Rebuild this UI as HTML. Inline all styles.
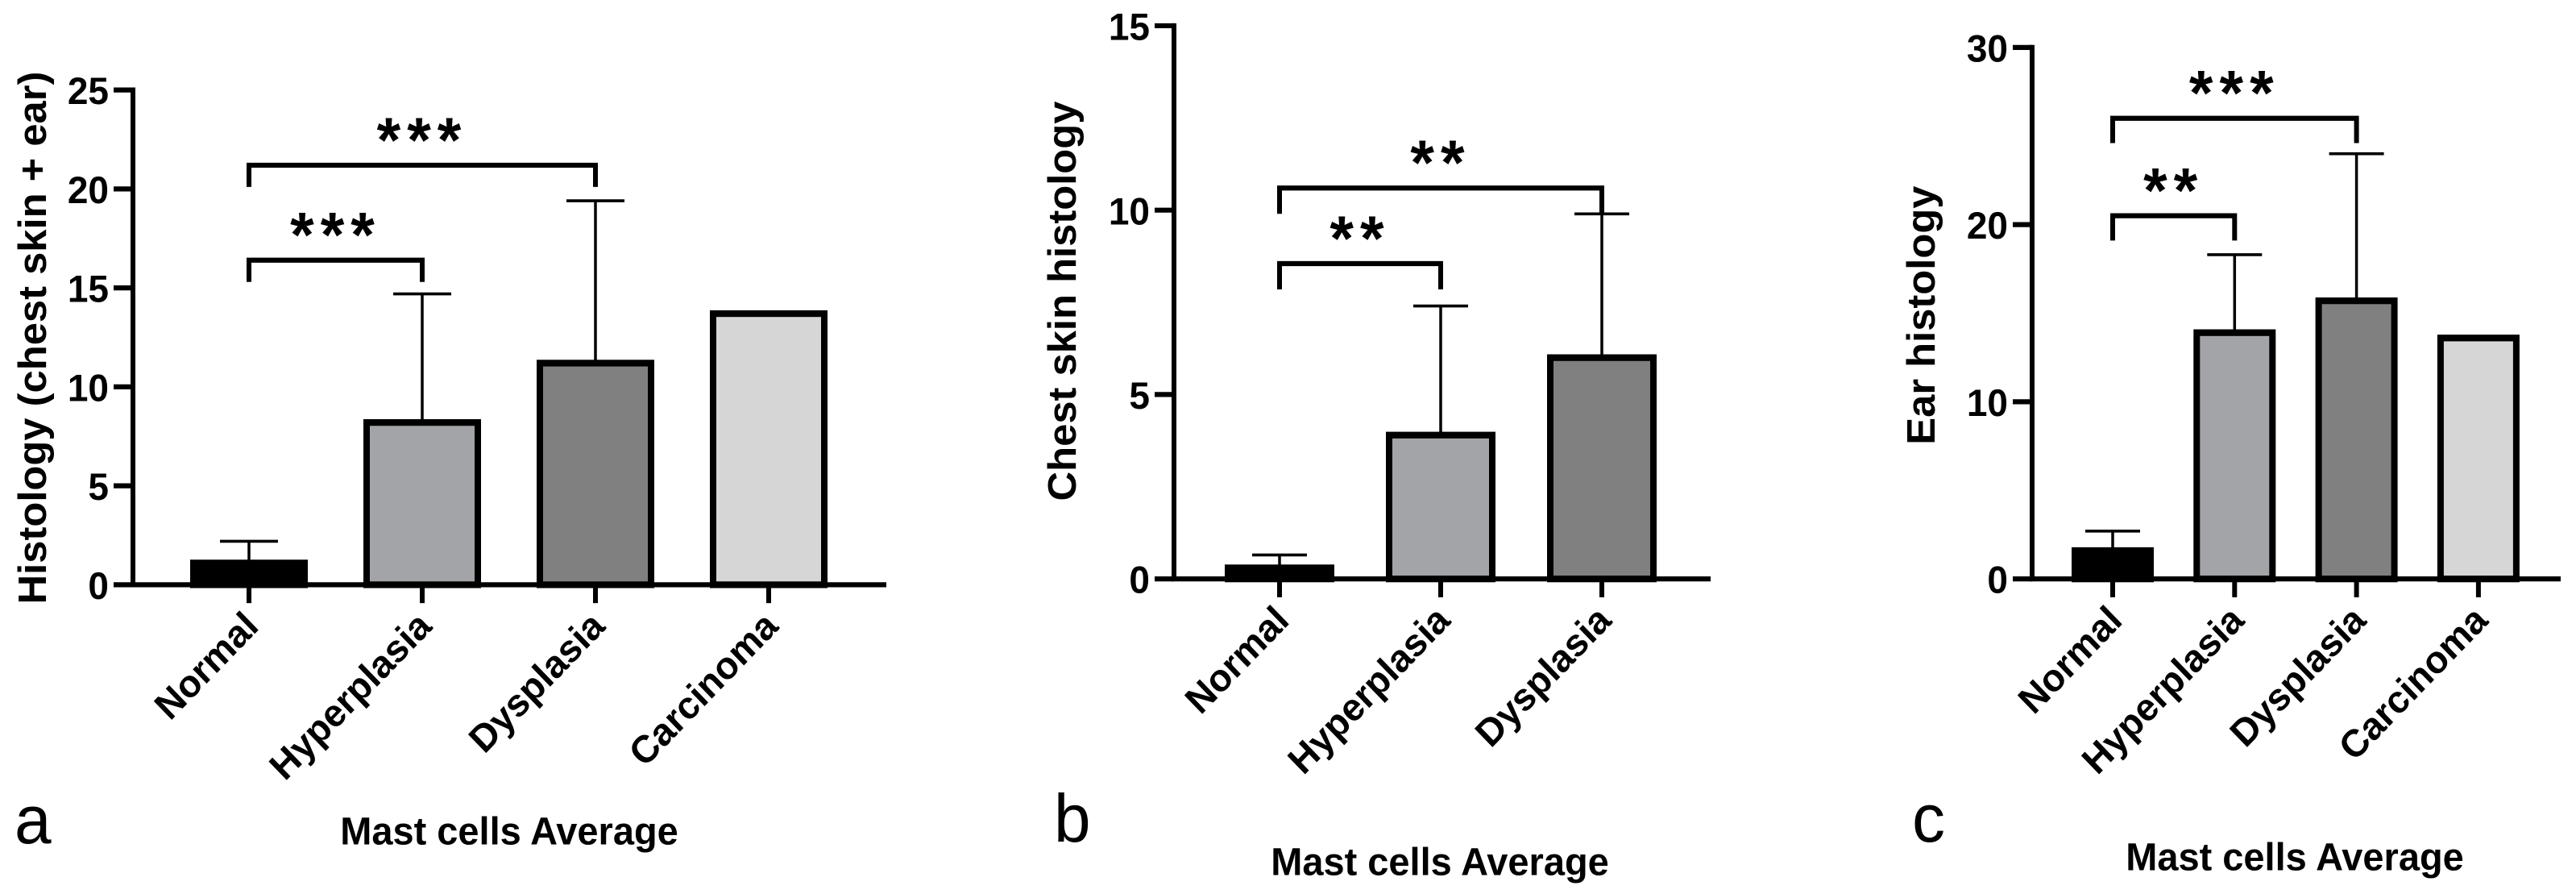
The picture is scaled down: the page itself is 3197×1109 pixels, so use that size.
<!DOCTYPE html>
<html><head><meta charset="utf-8"><style>
html,body{margin:0;padding:0;background:#fff;}
svg{display:block;font-family:"Liberation Sans",Arial,sans-serif;}
</style></head><body>
<svg width="3197" height="1109" viewBox="0 0 3197 1109" xmlns="http://www.w3.org/2000/svg"><g id="fig" transform="translate(0,4) scale(1,1.035)"></g></svg>
<script>
// Panel a data
const catsA = ["Normal","Hyperplasia","Dysplasia","Carcinoma"];
const meansA = [1.1, 8.2, 11.2, 13.7];
const errA = [2.2, 14.7, 19.4, null];
const ticksA = [0,5,10,15,20,25];
// Panel b data
const catsB = ["Normal","Hyperplasia","Dysplasia"];
const meansB = [0.3, 3.9, 6.0];
const errB = [0.65, 7.4, 9.9];
const ticksB = [0,5,10,15];
// Panel c data
const catsC = ["Normal","Hyperplasia","Dysplasia","Carcinoma"];
const meansC = [1.6, 13.9, 15.7, 13.6];
const errC = [2.7, 18.3, 24.0, null];
const ticksC = [0,10,20,30];
// significance brackets: [fromIndex, toIndex, bracket value, leg-bottom value, label]
const sigA = [[0,1,16.4,15.3,"***"],[0,2,21.2,20.1,"***"]];
const sigB = [[0,1,8.55,7.85,"**"],[0,2,10.6,9.9,"**"]];
const sigC = [[0,1,20.5,19.1,"**"],[0,2,26.0,24.6,"***"]];
const fills = ["#000000","#a3a4a8","#808080","#d6d6d6"];

const NS = "http://www.w3.org/2000/svg";
const svg = document.getElementById("fig");
function mk(tag, attrs, parent, text){
  const e = document.createElementNS(NS, tag);
  for (const k in attrs) e.setAttribute(k, attrs[k]);
  if (text !== undefined) e.textContent = text;
  (parent || svg).appendChild(e);
  return e;
}

function panel(p){
  const g = mk("g", {});
  
  
  const ymax = p.ticks[p.ticks.length-1];
  const y = v => p.y0 - (p.y0 - p.yTop) * v / ymax;
  const x = i => p.cx0 + i * p.step;
  p.means.forEach((m, i) => {
    const e = p.err[i];
    if (e !== null) {
      const l = mk("path", {d: `M${x(i)},${y(m)} V${y(e)} M${x(i)-p.capw},${y(e)} H${x(i)+p.capw}`, stroke: "#000", "stroke-width": 3.5, fill: "none"}, g);
      
      
    }
    const r = mk("rect", {x: x(i) - p.bw/2, y: y(m), width: p.bw, height: p.y0 - y(m), fill: fills[i], stroke: "#000", "stroke-width": 8}, g);
    
    
  });
  const ax = mk("path", {d: `M${p.ax},${p.yTop-3} V${p.y0} H${p.xEnd}`, stroke: "#000", "stroke-width": 6, fill: "none"}, g);
  
  
  p.ticks.forEach(t => {
    mk("line", {x1: p.ax - 24, x2: p.ax, y1: y(t), y2: y(t), stroke: "#000", "stroke-width": 6}, g);
    const tl = mk("text", {x: p.ax - 30, y: y(t) + 17, "text-anchor": "end", "font-size": 46, "font-weight": "bold"}, g, String(t));
    
    
  });
  p.cats.forEach((c, i) => {
    mk("line", {x1: x(i), x2: x(i), y1: p.y0, y2: p.y0 + 22, stroke: "#000", "stroke-width": 6}, g);
    const tx = x(i) + 14, ty = p.y0 + 52;
    const lab = mk("text", {x: tx, y: ty, "text-anchor": "end", "font-size": 46, "font-weight": "bold", transform: `rotate(-45 ${tx} ${ty})`}, g, c);
    
    
  });
  p.sig.forEach(s => {
    const x1 = x(s[0]), x2 = x(s[1]), yb = y(s[2]), yl = y(s[3]);
    const br = mk("path", {d: `M${x1},${yl} V${yb} H${x2} V${yl}`, stroke: "#000", "stroke-width": 6, fill: "none"}, g);
    
    
    const st = mk("text", {x: (x1+x2)/2, y: yb - 4, "text-anchor": "middle", "font-size": 76, "font-weight": "bold", "letter-spacing": 8}, g, s[4]);
    
    
  });
  const yt = mk("text", {x: p.ytX, y: p.ytY, "text-anchor": "middle", "font-size": p.ytSize, "font-weight": "bold", transform: `rotate(-90 ${p.ytX} ${p.ytY})`}, g, p.ytitle);
  
  
  const xt = mk("text", {x: p.xtX, y: p.xtY, "text-anchor": "middle", "font-size": 47, "font-weight": "bold"}, g, "Mast cells Average");
  
  
  const pl = mk("text", {x: p.plX, y: p.plY, "font-size": 82}, g, p.letter);
  
  
}

panel({name:"panel-a", cats:catsA, means:meansA, err:errA, ticks:ticksA, sig:sigA,
  y0:697, yTop:104, ax:165, xEnd:1100, cx0:309, step:215, bw:138, capw:36,
  ytitle:"Histology (chest skin + ear)", ytX:57, ytY:401, ytSize:49,
  xtX:632, xtY:1008, plX:18, plY:1007, letter:"a"});
panel({name:"panel-b", cats:catsB, means:meansB, err:errB, ticks:ticksB, sig:sigB,
  y0:690, yTop:27, ax:1457, xEnd:2123, cx0:1588, step:200, bw:128, capw:34,
  ytitle:"Chest skin histology", ytX:1335, ytY:357, ytSize:49,
  xtX:1787, xtY:1045, plX:1308, plY:1005, letter:"b"});
panel({name:"panel-c", cats:catsC, means:meansC, err:errC, ticks:ticksC, sig:sigC,
  y0:690, yTop:53, ax:2522, xEnd:3178, cx0:2622, step:151.3, bw:94, capw:34,
  ytitle:"Ear histology", ytX:2401, ytY:374, ytSize:49,
  xtX:2848, xtY:1039, plX:2373, plY:1005, letter:"c"});
</script>
</body></html>
